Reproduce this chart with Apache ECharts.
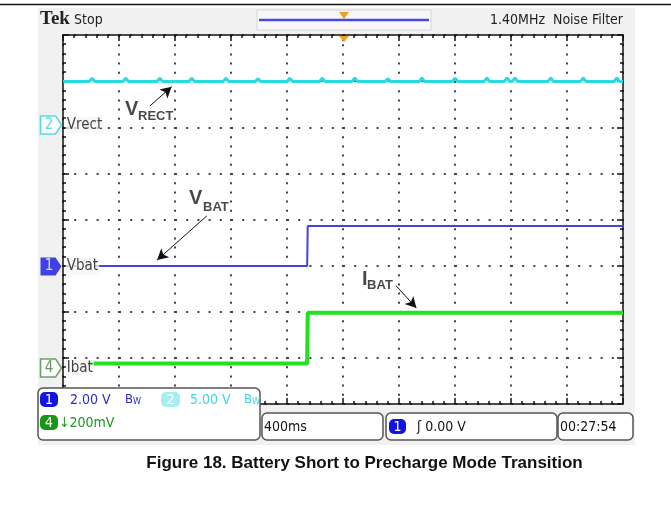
<!DOCTYPE html>
<html>
<head>
<meta charset="utf-8">
<script src="https://cdn.jsdelivr.net/npm/echarts@6/dist/echarts.min.js"></script>
<style>
  html, body { margin: 0; padding: 0; background: #fff; }
  #chart { width: 671px; height: 508px; }
</style>
</head>
<body>
<div id="chart"></div>
<script>
// axes in scope divisions: 10 horizontal (400ms/div), 8 vertical
const xDivs = 10
const yDivs = 8

// traces, [division, division]
const vrect = [
  [0, 6.99], [0.47, 6.99], [0.52, 7.06], [0.57, 6.99], [1.07, 6.99], [1.12, 7.06], [1.17, 6.99],
  [1.68, 6.99], [1.73, 7.06], [1.78, 6.99], [2.25, 6.99], [2.30, 7.06], [2.35, 6.99],
  [2.86, 6.99], [2.91, 7.06], [2.96, 6.99], [3.43, 6.99], [3.48, 7.05], [3.53, 6.99],
  [4.00, 6.99], [4.05, 7.06], [4.10, 6.99], [4.58, 6.99], [4.63, 7.06], [4.68, 6.99],
  [5.16, 6.99], [5.21, 7.07], [5.26, 6.99], [5.75, 6.99], [5.80, 7.05], [5.85, 6.99],
  [6.36, 6.99], [6.41, 7.07], [6.46, 6.99], [6.95, 6.99], [7.00, 7.06], [7.05, 6.99],
  [7.52, 6.99], [7.57, 7.07], [7.62, 6.99], [7.88, 6.99], [7.93, 7.07], [7.98, 6.99],
  [8.02, 6.99], [8.07, 7.07], [8.12, 6.99], [8.66, 6.99], [8.71, 7.07], [8.76, 6.99],
  [9.24, 6.99], [9.29, 7.07], [9.34, 6.99], [9.84, 6.99], [9.89, 7.07], [9.94, 6.99], [10, 6.99]
]
const vbat = [[0.57, 2.99], [4.36, 2.99], [4.37, 3.86], [10, 3.86]]
const ibat = [[0.48, 0.88], [4.36, 0.88], [4.37, 1.98], [10, 1.98]]

// channel markers at the left edge
const chNums = ['2', '1', '4']
const chNames = ['Vrect', 'Vbat', 'Ibat']
const chLevels = [6.05, 2.98, 0.78]

// annotations
const noteMain = ['V', 'V', 'I']
const noteSub = ['RECT', 'BAT', 'BAT']
const notePos = [[1.107, 6.38], [2.25, 4.45], [5.34, 2.69]]
const noteSubPos = [[1.34, 6.23], [2.5, 4.27], [5.43, 2.57]]
const arrows = [
  [[1.55, 6.46], [1.94, 6.88]],
  [[2.57, 4.08], [1.68, 3.12]],
  [[5.95, 2.56], [6.31, 2.08]]
]

const narrow = "'DejaVu Sans Condensed', 'DejaVu Sans', sans-serif"
const chart = echarts.init(document.getElementById('chart'))

function frameAxis (pos, grid) {
  return {
    type: 'value',
    position: pos,
    min: 0,
    max: pos === 'top' || pos === 'bottom' ? xDivs : yDivs,
    interval: 1,
    axisLine: {show: true, onZero: false, lineStyle: {color: '#111', width: 1.5}},
    axisTick: {show: true, inside: true, length: 6, lineStyle: {color: '#111', width: 1.5}},
    minorTick: {show: true, splitNumber: 5, length: 3, lineStyle: {color: '#111', width: 1.5}},
    axisLabel: {show: false},
    splitLine: {
      show: grid,
      lineStyle: {
        color: '#444',
        width: 2,
        type: pos === 'bottom' ? [2, 7.2] : [2, 9.2]
      }
    }
  }
}

const markerSeries = {
  type: 'scatter',
  clip: false,
  silent: true,
  z: 5,
  symbol: 'path://M0,0 L15,0 L21,9 L15,18 L0,18 Z',
  symbolSize: [21, 18],
  data: chLevels.map((y, i) => ({
    value: [-0.214, y],
    itemStyle: i === 1
      ? {color: '#1414e0', borderWidth: 0}
      : {color: '#fff', borderColor: i === 0 ? '#2cd8dc' : '#4a8a4a', borderWidth: 1.5},
    label: {
      show: true,
      position: 'inside',
      offset: [-2, 0],
      formatter: chNums[i],
      fontFamily: narrow,
      fontSize: 15,
      color: i === 1 ? '#fff' : (i === 0 ? '#2cd8dc' : '#4a7a4a')
    }
  }))
}

const nameSeries = {
  type: 'scatter',
  clip: false,
  silent: true,
  symbolSize: 0,
  z: 5,
  data: chLevels.map((y, i) => ({
    value: [0.05, y],
    label: {
      show: true,
      position: 'right',
      distance: 0,
      formatter: chNames[i],
      fontFamily: narrow,
      fontSize: 15,
      color: '#111',
      backgroundColor: 'rgba(246,246,246,0.95)',
      padding: [1, 1]
    }
  }))
}

const noteSeries = {
  type: 'scatter',
  silent: true,
  symbolSize: 0,
  z: 6,
  data: notePos.map((p, i) => ({
    value: p,
    label: {
      show: true, position: 'right', distance: 0, formatter: noteMain[i],
      fontFamily: 'Liberation Sans, Arial, sans-serif', fontWeight: 'bold', fontSize: 20, color: '#1a1a1a'
    }
  })).concat(noteSubPos.map((p, i) => ({
    value: p,
    label: {
      show: true, position: 'right', distance: 0, formatter: noteSub[i],
      fontFamily: 'Liberation Sans, Arial, sans-serif', fontWeight: 'bold', fontSize: 13, color: '#1a1a1a'
    }
  })))
}

const TOP = 100

function pill (x, y, w, h, fill, txt) {
  return [
    {type: 'rect', z: TOP, shape: {x: x, y: y, width: w, height: h, r: 5}, style: {fill: fill}},
    {type: 'text', z: TOP, x: x + w / 2, y: y + h / 2 + 0.5,
      style: {text: txt, fill: '#fff', font: '14px ' + narrow, align: 'center', verticalAlign: 'middle'}}
  ]
}

function box (x, y, w, h) {
  return {type: 'rect', z: TOP, shape: {x: x, y: y, width: w, height: h, r: 5},
    style: {fill: '#fff', stroke: '#555', lineWidth: 1.5}}
}

function label (x, y, txt, color, size) {
  return {type: 'text', z: TOP, x: x, y: y,
    style: {text: txt, fill: color, font: (size || 14) + 'px ' + narrow, verticalAlign: 'middle'}}
}

function bw (x, y, color) {
  return {type: 'text', z: TOP, x: x, y: y,
    style: {
      text: '{b|B}{w|W}',
      verticalAlign: 'middle',
      rich: {
        b: {fill: color, font: '13px ' + narrow},
        w: {fill: color, font: '9px ' + narrow, verticalAlign: 'bottom', lineHeight: 8}
      }
    }}
}

const option = {
  animation: false,
  backgroundColor: '#fff',
  grid: {
    left: 63, right: 48, top: 35, bottom: 104,
    show: true, backgroundColor: '#fff', borderWidth: 0
  },
  xAxis: [frameAxis('bottom', true), frameAxis('top', false)],
  yAxis: [frameAxis('left', true), frameAxis('right', false)],
  series: [
    {
      name: 'Vrect', type: 'line', data: vrect, showSymbol: false, z: 3,
      lineStyle: {color: '#26dcdc', width: 3}
    },
    {
      name: 'Vbat', type: 'line', data: vbat, showSymbol: false, z: 3,
      lineStyle: {color: '#4444dd', width: 2}
    },
    {
      name: 'Ibat', type: 'line', data: ibat, showSymbol: false, z: 3,
      lineStyle: {color: '#22e022', width: 4},
      markLine: {
        silent: true,
        symbol: ['none', 'arrow'],
        symbolSize: [9, 11],
        label: {show: false},
        lineStyle: {color: '#111', width: 1, type: 'solid'},
        data: arrows.map(a => [{coord: a[0]}, {coord: a[1]}])
      }
    },
    markerSeries,
    nameSeries,
    noteSeries
  ],
  graphic: [
    // page rule and scope screen background
    {type: 'line', z: -20, shape: {x1: 0, y1: 4.5, x2: 671, y2: 4.5}, style: {stroke: '#111', lineWidth: 1.5}},
    {type: 'rect', z: -10, shape: {x: 38, y: 8, width: 597, height: 437}, style: {fill: '#f1f1f1'}},
    // header
    {type: 'text', x: 40, y: 19, style: {text: 'Tek', font: 'bold 19px "Liberation Serif", serif', fill: '#222', verticalAlign: 'middle'}},
    {type: 'text', x: 74, y: 20, style: {text: 'Stop', font: '14px ' + narrow, fill: '#222', verticalAlign: 'middle'}},
    {type: 'text', x: 490, y: 20, style: {text: '1.40MHz  Noise Filter', font: '14px ' + narrow, fill: '#222', verticalAlign: 'middle'}},
    {type: 'rect', shape: {x: 257, y: 10, width: 174, height: 20}, style: {fill: '#f7f7f7', stroke: '#d6d6d6', lineWidth: 1}},
    {type: 'line', shape: {x1: 259, y1: 20, x2: 429, y2: 20}, style: {stroke: '#4848e6', lineWidth: 2.5}},
    {type: 'polygon', shape: {points: [[339, 12], [349, 12], [344, 19]]}, style: {fill: '#f0a020'}},
    {type: 'polygon', z: 10, shape: {points: [[339, 36], [349, 36], [344, 42]]}, style: {fill: '#f0a020'}},
    // status bar
    box(38, 388, 222, 52),
    ...pill(40, 392, 18, 15, '#1414e0', '1'),
    label(70, 400, '2.00 V', '#2a2ad0'),
    bw(125, 400, '#2a2ad0'),
    ...pill(161, 392, 19, 15, '#a6eef2', '2'),
    label(190, 400, '5.00 V', '#3cd6de'),
    bw(244, 400, '#3cd6de'),
    ...pill(40, 415, 18, 15, '#169816', '4'),
    label(59, 423, '↓200mV', '#1d941d'),
    box(262, 413, 121, 27),
    label(264, 427, '400ms', '#111'),
    box(386, 413, 171, 27),
    ...pill(389, 419, 17, 15, '#1414e0', '1'),
    label(417, 427, 'ʃ 0.00 V', '#111'),
    box(558, 413, 75, 27),
    label(560, 427, '00:27:54', '#111'),
    // caption
    {type: 'text', x: 364.5, y: 463,
      style: {text: 'Figure 18. Battery Short to Precharge Mode Transition',
        font: 'bold 17px "Liberation Sans", Arial, sans-serif', fill: '#111', align: 'center', verticalAlign: 'middle'}}
  ]
}

chart.setOption(option)
</script>
</body>
</html>
